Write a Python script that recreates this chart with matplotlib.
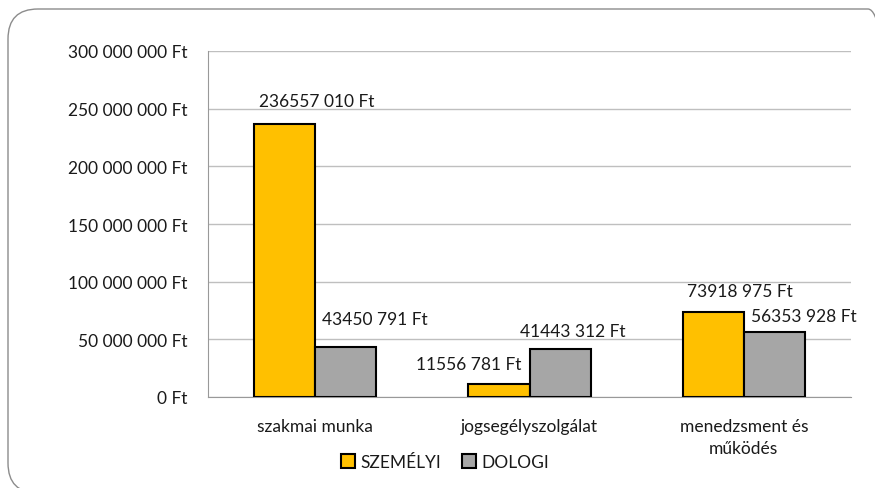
import matplotlib.pyplot as plt
from matplotlib.patches import FancyBboxPatch
from matplotlib.ticker import FuncFormatter
import numpy as np

plt.rcParams['font.family'] = ['Lato', 'DejaVu Sans']

# data
categories = ['szakmai munka', 'jogsegélyszolgálat', 'menedzsment és\nműködés']
szemelyi = [236557010, 11556781, 73918975]
dologi = [43450791, 41443312, 56353928]
series_names = ['SZEMÉLYI', 'DOLOGI']

# label positions (data x, value y)
lab_x_sz = [0.009, 0.715, 1.981]
lab_y_sz = [256.5e6, 28.6e6, 91.9e6]
lab_x_do = [0.280, 1.201, 2.280]
lab_y_do = [67.6e6, 57.2e6, 70.2e6]

orange = '#FFC000'
grey = '#A6A6A6'
txt = '#1a1a1a'
fs = 12.5

fig = plt.figure(figsize=(8.75, 4.89), dpi=100)
ax = fig.add_axes([208/875, 1-398/489, (851-208)/875, (398-52)/489])

# rounded frame around the chart (inch coordinates)
frame = FancyBboxPatch((0.08, -0.05), 8.9, 4.84,
                       boxstyle='round,pad=0,rounding_size=0.3',
                       transform=fig.dpi_scale_trans, fill=False,
                       edgecolor='#8c8c8c', lw=1.0, clip_on=False)
fig.patches.append(frame)

x = np.arange(len(categories))
w = 0.285
ax.bar(x - w/2, szemelyi, w, color=orange, edgecolor='black', lw=1.5,
       label=series_names[0], zorder=3)
ax.bar(x + w/2, dologi, w, color=grey, edgecolor='black', lw=1.5,
       label=series_names[1], zorder=3)

def fmt_label(v):
    return f'{v // 1000} {v % 1000:03d} Ft'

for v, lx, ly in zip(szemelyi, lab_x_sz, lab_y_sz):
    ax.text(lx, ly, fmt_label(v), ha='center', va='center', fontsize=fs, color=txt)
for v, lx, ly in zip(dologi, lab_x_do, lab_y_do):
    ax.text(lx, ly, fmt_label(v), ha='center', va='center', fontsize=fs, color=txt)

ax.set_xlim(-0.5, 2.5)
ax.set_ylim(0, 300e6)
ax.set_yticks(np.arange(0, 300e6 + 1, 50e6))
ax.yaxis.set_major_formatter(FuncFormatter(
    lambda v, p: f'{int(v):,} Ft'.replace(',', ' ')))
ax.set_xticks(x)
ax.set_xticklabels(categories, fontsize=fs, color=txt, linespacing=1.5)
ax.tick_params(axis='y', length=0, pad=15, labelsize=fs, labelcolor=txt)
ax.tick_params(axis='x', length=0, pad=15)

ax.grid(axis='y', color='#BFBFBF', lw=1, zorder=0)
for s in ['top', 'right']:
    ax.spines[s].set_visible(False)
ax.spines['left'].set_color('#999999')
ax.spines['bottom'].set_color('#999999')

fig.legend(loc='center', bbox_to_anchor=(445/875, 1-463/489), ncol=2,
           frameon=False, fontsize=fs, handlelength=0.8, handleheight=0.8,
           handletextpad=0.3, columnspacing=1.2, labelcolor=txt)

fig.savefig('out.png', dpi=100)
